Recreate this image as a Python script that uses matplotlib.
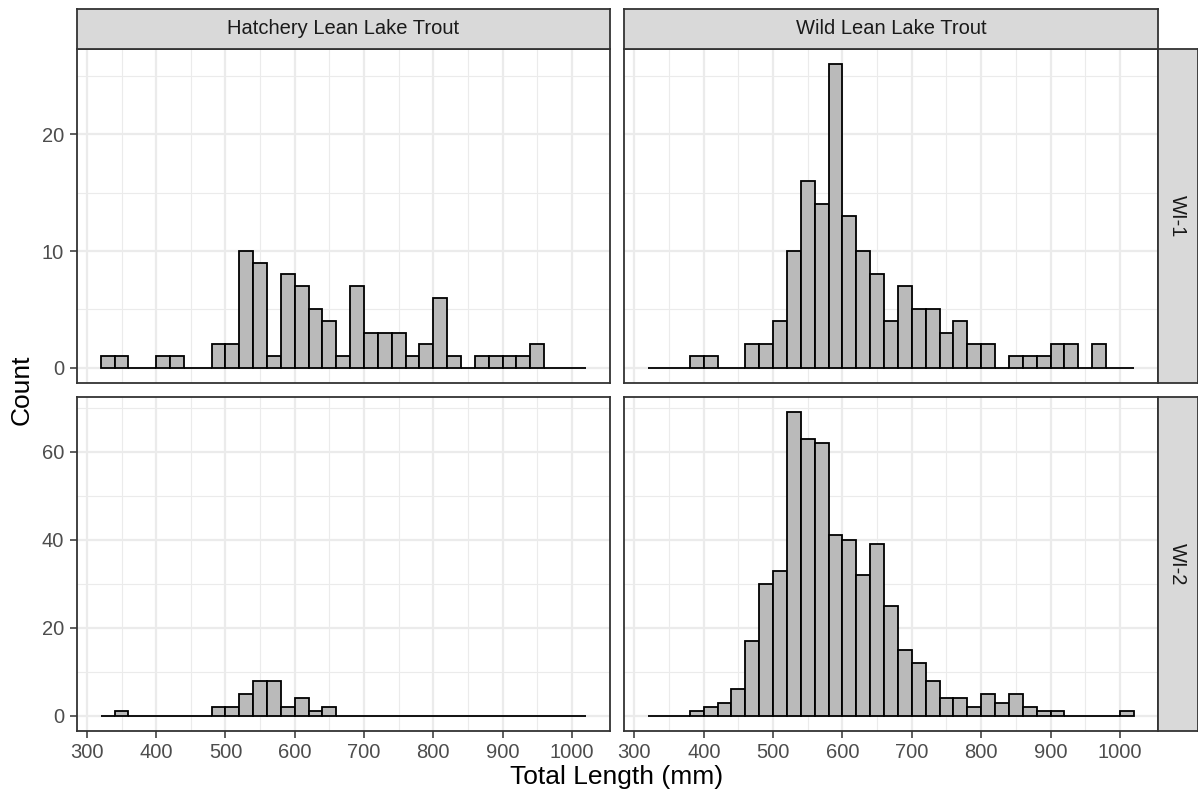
import matplotlib.pyplot as plt
import numpy as np

plt.rcParams['font.family'] = ['Liberation Sans', 'DejaVu Sans']

# histogram bins, 20 mm wide, left edges from 320 to 1000
bin_left = np.arange(320, 1020, 20)

hatchery_wi1 = [1, 1, 0, 0, 1, 1, 0, 0, 2, 2, 10, 9, 1, 8, 7, 5, 4, 1,
                7, 3, 3, 3, 1, 2, 6, 1, 0, 1, 1, 1, 1, 2, 0, 0, 0]
wild_wi1 = [0, 0, 0, 1, 1, 0, 0, 2, 2, 4, 10, 16, 14, 26, 13, 10, 8, 4,
            7, 5, 5, 3, 4, 2, 2, 0, 1, 1, 1, 2, 2, 0, 2, 0, 0]
hatchery_wi2 = [0, 1, 0, 0, 0, 0, 0, 0, 2, 2, 5, 8, 8, 2, 4, 1, 2, 0,
                0, 0, 0, 0, 0, 0, 0, 0, 0, 0, 0, 0, 0, 0, 0, 0, 0]
wild_wi2 = [0, 0, 0, 1, 2, 3, 6, 17, 30, 33, 69, 63, 62, 41, 40, 32, 39, 25,
            15, 12, 8, 4, 4, 2, 5, 3, 5, 2, 1, 1, 0, 0, 0, 0, 1]

col_labels = ['Hatchery Lean Lake Trout', 'Wild Lean Lake Trout']
row_labels = ['WI-1', 'WI-2']
counts = [[hatchery_wi1, wild_wi1], [hatchery_wi2, wild_wi2]]

W, H = 1198, 795
fig = plt.figure(figsize=(W / 100, H / 100), dpi=100)

col_x = [(76.5, 610), (624, 1158)]
row_y = [(49, 383), (397, 731)]
strip_c = '#333333'

def frac(x0, y0, x1, y1):
    return [x0 / W, 1 - y1 / H, (x1 - x0) / W, (y1 - y0) / H]

for r in range(2):
    ymax = max(max(c) for c in counts[r])
    pad = ymax * 0.05
    if r == 0:
        major, minor = np.arange(0, 30, 10), np.arange(5, 30, 10)
    else:
        major, minor = np.arange(0, 80, 20), np.arange(10, 80, 20)
    for c in range(2):
        (x0, x1), (y0, y1) = col_x[c], row_y[r]
        ax = fig.add_axes(frac(x0, y0, x1, y1))
        ax.bar(bin_left, counts[r][c], width=20, align='edge',
               color='#BABABA', edgecolor='black', linewidth=1.3, zorder=3)
        ax.set_xlim(285, 1055)
        ax.set_ylim(-pad, ymax + pad)
        ax.set_xticks(np.arange(300, 1100, 100))
        ax.set_xticks(np.arange(350, 1050, 100), minor=True)
        ax.set_yticks(major)
        ax.set_yticks(minor, minor=True)
        ax.grid(which='major', color='#EBEBEB', linewidth=1.6, zorder=0)
        ax.grid(which='minor', color='#EBEBEB', linewidth=0.8, zorder=0)
        ax.set_axisbelow(True)
        for s in ax.spines.values():
            s.set_color(strip_c)
            s.set_linewidth(1.3)
        ax.tick_params(which='minor', length=0)
        ax.tick_params(which='major', length=5, width=1.1, color=strip_c,
                       labelsize=14.5, labelcolor='#4D4D4D', pad=4)
        if r == 0:
            ax.tick_params(axis='x', length=0, labelbottom=False)
        if c == 1:
            ax.tick_params(axis='y', length=0, labelleft=False)

        # column strip on top
        if r == 0:
            sa = fig.add_axes(frac(x0, 9, x1, 49))
            sa.set_facecolor('#D9D9D9')
            sa.set_xticks([])
            sa.set_yticks([])
            for s in sa.spines.values():
                s.set_color(strip_c)
                s.set_linewidth(1.3)
            sa.text(0.5, 0.5, col_labels[c], ha='center', va='center',
                    fontsize=14.5, color='#1A1A1A', transform=sa.transAxes)
    # row strip on the right
    sr = fig.add_axes(frac(1158, row_y[r][0], 1197.5, row_y[r][1]))
    sr.set_facecolor('#D9D9D9')
    sr.set_xticks([])
    sr.set_yticks([])
    for s in sr.spines.values():
        s.set_color(strip_c)
        s.set_linewidth(1.3)
    sr.text(0.5, 0.5, row_labels[r], ha='center', va='center', rotation=-90,
            fontsize=14.5, color='#1A1A1A', transform=sr.transAxes)

fig.text(617 / W, 1 - 777 / H, 'Total Length (mm)', ha='center', va='center',
         fontsize=19, color='black')
fig.text(22 / W, 1 - 390 / H, 'Count', ha='center', va='center',
         rotation=90, fontsize=19, color='black')

fig.savefig('out.png', dpi=100)
